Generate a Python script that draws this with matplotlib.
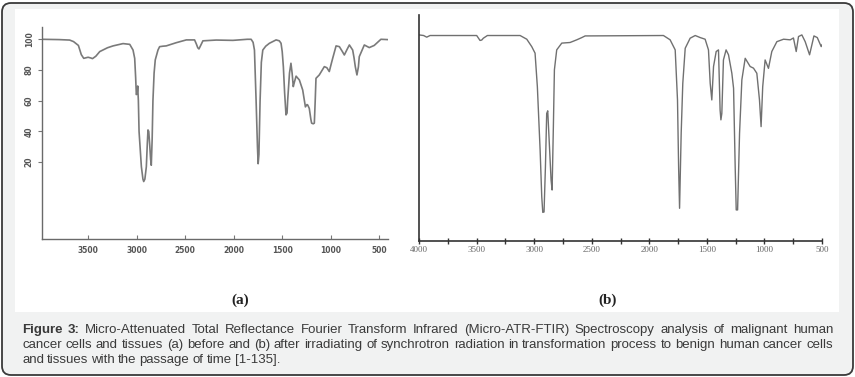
import matplotlib
matplotlib.use("Agg")
import matplotlib.pyplot as plt
from matplotlib.patches import FancyBboxPatch, Rectangle

# spectrum (a): before irradiation, wavenumber (cm-1) vs transmittance (%)
wn_a = [3980, 3800, 3690, 3650, 3600, 3570, 3545, 3520, 3500, 3470, 3455, 3420, 3380, 3300,
        3243, 3140, 3071, 3037, 3020, 3010, 3003, 2995, 2989, 2982, 2975, 2951, 2935, 2927,
        2915, 2900, 2890, 2883, 2875, 2866, 2856, 2849, 2840, 2832, 2820, 2808, 2780, 2763,
        2730, 2695, 2591, 2488, 2403, 2385, 2370, 2358, 2340, 2317, 2180, 2008, 1860, 1820,
        1800, 1786, 1769, 1755, 1748, 1740, 1728, 1715, 1700, 1670, 1632, 1563, 1530, 1512,
        1500, 1488, 1475, 1461, 1450, 1444, 1425, 1410, 1398, 1386, 1375, 1357, 1323, 1289,
        1261, 1245, 1238, 1221, 1205, 1197, 1180, 1169, 1160, 1152, 1118, 1066, 1040, 1015,
        995, 980, 945, 911, 880, 860, 835, 808, 774, 760, 747, 730, 715, 706, 654, 603,
        552, 483, 415]
t_a = [100, 99.8, 99.5, 98.5, 96, 90, 87.6, 88, 88.3, 87.8, 87.4, 89, 92, 94.5,
       95.7, 97.2, 96.7, 93, 87.6, 75, 64, 65, 69.6, 60, 40, 17, 9, 7.4,
       9, 17, 32, 41, 40, 32, 22, 18, 35, 60, 78, 86.6, 93, 95.2,
       95.5, 95.7, 97.8, 99.6, 99.6, 97, 94.5, 93.7, 96, 99, 99.5, 99.3, 100, 100,
       98, 93, 60, 30, 19, 25, 60, 85, 93, 95.5, 97.4, 99.6, 99, 97.4,
       92, 82, 65, 50.8, 52, 60, 78, 84.4, 78, 69.2, 72, 76, 73.5, 67,
       56, 57.5, 57.3, 55, 48, 45.4, 45, 45.4, 60, 74.6, 76.8, 82.2, 81.5, 79,
       84, 87.6, 95.7, 95.2, 92, 89.8, 93, 96.3, 93, 88, 82.2, 76.8, 82, 88.7, 96.3, 94.6,
       96, 100, 99.8]

# spectrum (b): after irradiation
wn_b = [4000, 3960, 3933, 3904, 3499, 3470, 3455, 3441, 3406, 3122, 3064, 3021, 2992, 2972,
        2948, 2934, 2925, 2914, 2902, 2891, 2882, 2867, 2853, 2844, 2833, 2824, 2804, 2760,
        2688, 2630, 2586, 2557, 1877, 1819, 1775, 1755, 1745, 1737, 1723, 1709, 1688, 1645,
        1601, 1558, 1515, 1486, 1471, 1457, 1442, 1419, 1399, 1385, 1378, 1370, 1356, 1333,
        1312, 1283, 1268, 1254, 1245, 1233, 1216, 1196, 1167, 1124, 1095, 1066, 1043, 1029,
        1015, 994, 965, 936, 892, 834, 776, 748, 724, 704, 675, 646, 608, 570, 541, 507, 500]
t_b = [100.3, 100, 99.2, 100, 100, 97.6, 97.8, 98.7, 100, 100, 98.2, 94.6, 91.4, 75,
       44, 21.5, 13.8, 14, 36, 62, 63.3, 46, 29.6, 24.7, 55.6, 83.3, 93, 96.3,
       96.6, 97.9, 99, 99.8, 100, 97.9, 93, 68.6, 35, 15.8, 52.4, 76.7, 93.8, 98.7,
       100, 99, 98.2, 93, 76.7, 68.6, 84.9, 92.2, 93, 63.7, 58.9, 62, 88.1, 93,
       90.6, 81.6, 74.3, 36, 15, 15, 52.4, 78.4, 88.9, 84.9, 84.1, 81.6, 68.6, 55.6,
       75, 88.1, 84, 92.2, 97, 98.2, 97.9, 98.8, 92.2, 99.5, 100.3, 97, 90.6, 99.8, 99, 94.6, 95.5]

ticks_a = [3500, 3000, 2500, 2000, 1500, 1000, 500]
yticks_a = [20, 40, 60, 80, 100]
ticks_b = [4000, 3500, 3000, 2500, 2000, 1500, 1000, 500]
minor_b = [3750, 3250, 2750, 2250, 1750, 1250, 750]

caption = [
    "Figure 3: Micro-Attenuated Total Reflectance Fourier Transform Infrared (Micro-ATR-FTIR) Spectroscopy analysis of malignant human",
    "cancer cells and tissues (a) before and (b) after irradiating of synchrotron radiation in transformation process to benign human cancer cells",
    "and tissues with the passage of time [1-135].",
]

W, H = 855, 377
fig = plt.figure(figsize=(W / 100, H / 100), dpi=100, facecolor="white")

# outer rounded frame and white panel
frame = FancyBboxPatch((0.02, 0.02), 8.51, 3.72, boxstyle="round,pad=0,rounding_size=0.09",
                       transform=fig.dpi_scale_trans, facecolor="#f1f2f2",
                       edgecolor="#3a3a3a", linewidth=1.3, zorder=-3)
fig.patches.append(frame)
panel = Rectangle((15 / W, 1 - 312 / H), (839 - 15) / W, (312 - 9) / H,
                  transform=fig.transFigure, facecolor="white", edgecolor="none", zorder=-2)
fig.patches.append(panel)

# ---- (a)
ax1 = fig.add_axes([42 / W, 1 - 239 / H, (388 - 42) / W, (239 - 27) / H])
ax1.patch.set_alpha(0)
ax1.plot(wn_a, t_a, color="#7a7a7a", lw=1.2)
ax1.set_xlim(3975, 410)
ax1.set_ylim(-30, 108)
ax1.set_xticks(ticks_a)
ax1.set_xticklabels([str(t) for t in ticks_a], fontsize=5.5, fontweight="bold", color="#555555")
ax1.set_yticks(yticks_a)
ax1.set_yticklabels([str(t) for t in yticks_a], fontsize=5.5, fontweight="bold",
                    color="#555555", rotation=90, va="center")
ax1.tick_params(axis="x", direction="in", length=3, width=0.8, color="#777777", pad=5)
ax1.tick_params(axis="y", direction="out", length=3, width=0.8, color="#777777", pad=3)
for s in ["top", "right"]:
    ax1.spines[s].set_visible(False)
for s in ["left", "bottom"]:
    ax1.spines[s].set_color("#6a6a6a")
    ax1.spines[s].set_linewidth(1.0)

# ---- (b)
ax2 = fig.add_axes([419 / W, 1 - 240.7 / H, (822 - 419) / W, (240.7 - 15) / H])
ax2.patch.set_alpha(0)
ax2.plot(wn_b, t_b, color="#707070", lw=1.0)
ax2.set_xlim(4000, 500)
ax2.set_ylim(0, 110)
ax2.set_xticks(ticks_b)
ax2.set_xticks(minor_b, minor=True)
ax2.set_xticklabels([str(t) for t in ticks_b], fontsize=6.5, family="Liberation Serif",
                    color="#666666")
ax2.set_yticks([])
ax2.tick_params(axis="x", which="both", direction="inout", length=4, width=1.0,
                color="#333333", pad=2)
for s in ["top", "right"]:
    ax2.spines[s].set_visible(False)
for s in ["left", "bottom"]:
    ax2.spines[s].set_color("#333333")
    ax2.spines[s].set_linewidth(1.2)

# panel labels
fig.text(240 / W, 1 - 300 / H, "(a)", ha="center", va="center", fontsize=11,
         family="Liberation Serif", fontweight="bold", color="#222222")
fig.text(608 / W, 1 - 300 / H, "(b)", ha="center", va="center", fontsize=11,
         family="Liberation Serif", fontweight="bold", color="#222222")

# justified caption
renderer = fig.canvas.get_renderer()
x_left, x_right = 22, 833
line_y = [330, 345, 360]
for i, line in enumerate(caption):
    words = line.split(" ")
    arts = []
    for j, w in enumerate(words):
        bold = i == 0 and j < 2
        t = fig.text(0, 1 - line_y[i] / H, w, fontsize=9.5, family="Liberation Sans",
                     fontweight="bold" if bold else "normal", color="#3a3a3a",
                     va="center", ha="left")
        arts.append(t)
    widths = [a.get_window_extent(renderer).width for a in arts]
    if i < len(caption) - 1:
        gap = (x_right - x_left - sum(widths)) / (len(words) - 1)
    else:
        gap = 3.0
    x = x_left
    for a, w in zip(arts, widths):
        a.set_x(x / W)
        x += w + gap

fig.savefig("out.png", dpi=100, facecolor=fig.get_facecolor())
